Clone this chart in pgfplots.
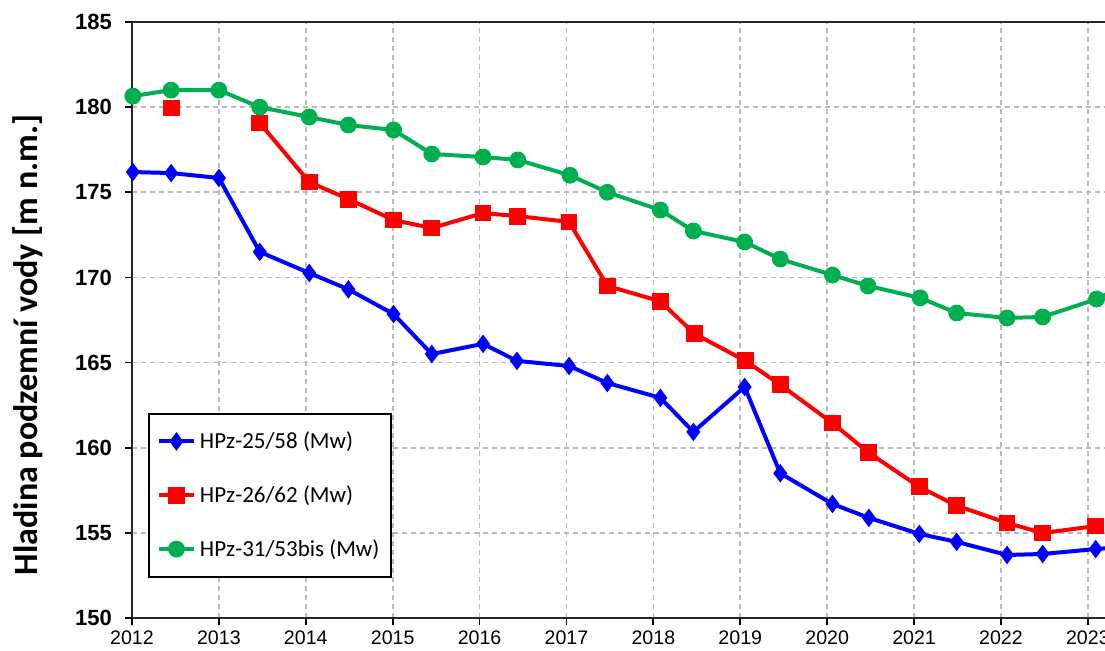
\documentclass[border=0pt]{standalone}
\usepackage{fontspec}
\setmainfont{Liberation Sans}
\newfontfamily\carlito{Carlito}
\usepackage{pgfplots}
\pgfplotsset{compat=1.18}
\definecolor{cblue}{RGB}{0,0,255}
\definecolor{cred}{RGB}{255,0,0}
\definecolor{cgreen}{RGB}{0,176,80}
\definecolor{cgrid}{RGB}{185,185,185}
\begin{document}
\begin{tikzpicture}
\useasboundingbox (-66pt,-16pt) rectangle (486.5pt,309pt);
\begin{axis}[
  scale only axis,
  width=486.5pt, height=298pt,
  xmin=2012, xmax=2023.197,
  ymin=150, ymax=185,
  xtick={2012,2013,...,2023},
  ytick={150,155,...,185},
  axis x line=box, axis y line=left,
  x axis line style={-, line width=1pt, black!85},
  y axis line style={-, line width=1pt, black!85},
  xtick pos=left, ytick pos=left,
  tick align=outside,
  major tick length=3.5pt,
  every tick/.style={black, line width=0.9pt},
  grid=major,
  major grid style={cgrid, line width=0.85pt, dash pattern=on 2.5pt off 2pt},
  /pgf/number format/assume math mode=true,
  x tick label style={/pgf/number format/1000 sep={}, font=\fontsize{9.8}{11}\selectfont, yshift=0.5pt},
  y tick label style={font=\bfseries\fontsize{11}{13}\selectfont, xshift=-3pt},
  ylabel={Hladina podzemní vody [m n.m.]},
  every axis y label/.style={at={(axis description cs:-0.107,0.458)}, rotate=90, anchor=center, font=\carlito\bfseries\fontsize{17}{20}\selectfont},
  legend style={at={(axis description cs:0.0164,0.0671)}, anchor=south west,
    draw=black, line width=1pt, fill=white,
    font=\carlito\fontsize{11.5}{14}\selectfont,
    inner xsep=4pt, inner ysep=7pt, row sep=13pt},
  legend cell align=left,
  legend image code/.code={
    \draw[mark repeat=2,mark phase=2,#1] plot coordinates {(0pt,0pt) (8.75pt,0pt) (17.5pt,0pt)};
  },
  unbounded coords=jump,
]
\addplot[cblue, line width=2pt, mark=diamond*, mark size=3pt, mark options={solid}] coordinates {
(2012.01,176.19) (2012.45,176.13) (2013.00,175.84) (2013.47,171.5) (2014.04,170.26)
(2014.49,169.3) (2015.01,167.85) (2015.45,165.5) (2016.04,166.1) (2016.43,165.1)
(2017.03,164.8) (2017.47,163.8) (2018.08,162.93) (2018.46,160.93) (2019.05,163.57)
(2019.46,158.5) (2020.06,156.7) (2020.48,155.88) (2021.06,154.94) (2021.49,154.47)
(2022.07,153.7) (2022.48,153.76) (2023.09,154.05) (2023.5,154.2)
};
\addlegendentry{HPz-25/58 (Mw)}
\addplot[cred, line width=2pt, mark=square*, mark size=3.2pt, mark options={solid}] coordinates {
(2012.45,179.95) (2012.9,nan)
(2013.47,179.07) (2014.04,175.6) (2014.49,174.6) (2015.01,173.37) (2015.45,172.9)
(2016.04,173.78) (2016.44,173.6) (2017.03,173.26) (2017.47,169.5) (2018.08,168.6)
(2018.47,166.7) (2019.06,165.1) (2019.46,163.7) (2020.06,161.45) (2020.48,159.7)
(2021.06,157.7) (2021.49,156.6) (2022.07,155.58) (2022.48,154.99) (2023.09,155.4)
};
\addlegendentry{HPz-26/62 (Mw)}
\addplot[cgreen, line width=2pt, mark=*, mark size=3.2pt, mark options={solid}] coordinates {
(2012.01,180.65) (2012.45,181.0) (2013.00,181.0) (2013.47,180.0) (2014.04,179.42)
(2014.49,178.95) (2015.01,178.66) (2015.45,177.25) (2016.04,177.07) (2016.44,176.9)
(2017.04,176.0) (2017.47,175.0) (2018.08,173.96) (2018.46,172.73) (2019.05,172.08)
(2019.46,171.08) (2020.06,170.14) (2020.47,169.5) (2021.07,168.8) (2021.49,167.91)
(2022.07,167.62) (2022.48,167.68) (2023.1,168.73) (2023.5,169.7)
};
\addlegendentry{HPz-31/53bis (Mw)}
\end{axis}
\end{tikzpicture}
\end{document}
